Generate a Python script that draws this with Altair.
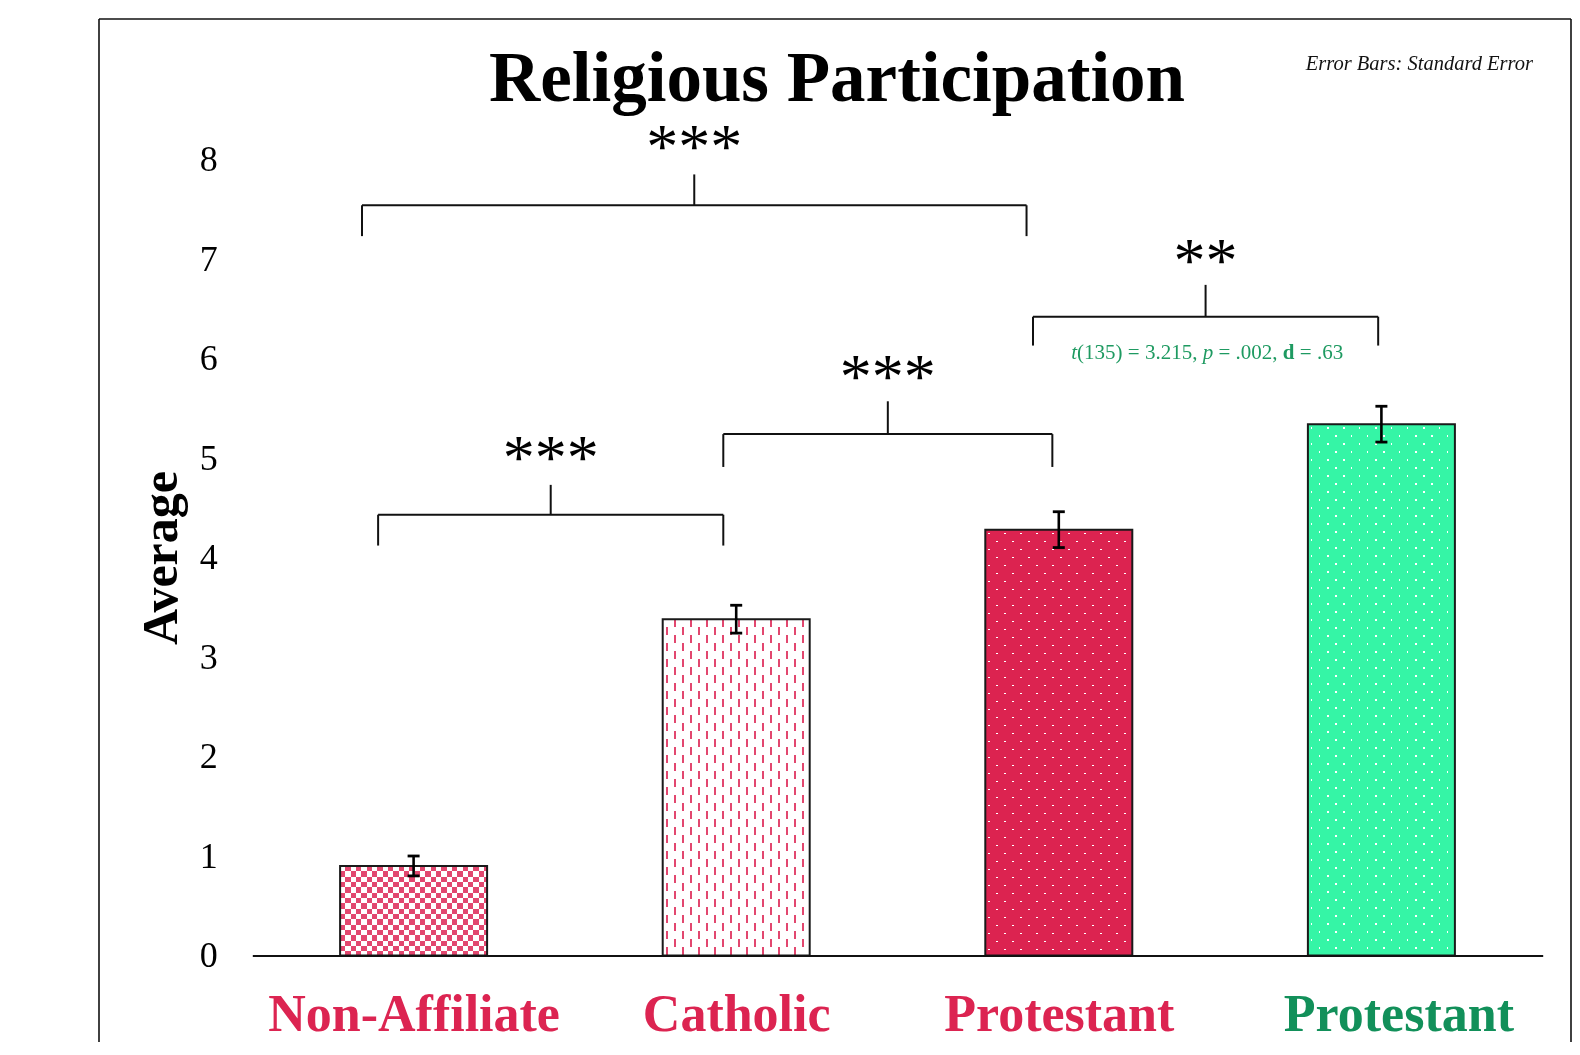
import json
import altair as alt
import pandas as pd

# ---------------- data ----------------
GROUPS = ["nonaff", "catholic", "prot_red", "prot_green"]
LABELS = ["Non-Affiliate", "Catholic", "Protestant", "Protestant"]
MEANS = [0.90, 3.38, 4.28, 5.34]
SE = [0.10, 0.14, 0.18, 0.18]

# significance brackets (x in category units, y in "Average" units)
BR_LEFT = [0.34, 0.39, 1.46, 2.42]
BR_RIGHT = [2.40, 1.46, 2.48, 3.49]
BR_Y = [7.54, 4.43, 5.24, 6.42]
BR_LEG = [7.23, 4.12, 4.91, 6.13]
BR_TOP = [7.85, 4.73, 5.57, 6.74]
STARS = ["***", "***", "***", "**"]
STAR_BASE = [7.91, 4.79, 5.60, 6.77]

STAT_PARTS = ["t", "(135) = 3.215,", "p", "= .002,", "d", "= .63"]
STAT_STYLE = ["italic", "normal", "italic", "normal", "normal", "normal"]
STAT_WEIGHT = ["normal", "normal", "normal", "normal", "bold", "normal"]
STAT_X = 2.96
STAT_Y = 6.0

Y_TICKS = [0, 1, 2, 3, 4, 5, 6, 7, 8]
TITLE = "Religious Participation"
NOTE = "Error Bars: Standard Error"

# ---------------- layout / style ----------------
FONT = "Liberation Serif"
W, H = 1472, 1023
X_RANGE = [153.3, 1443.7]
Y_RANGE = [936.5, 140.5]
PX_X = (X_RANGE[1] - X_RANGE[0]) / 4.0
PX_Y = (Y_RANGE[0] - Y_RANGE[1]) / 8.0
BAR_W = 147.0
CAP_W = 12.0

RED_LABEL = "#dc2451"
GREEN_LABEL = "#12905a"
PINK = "#e2476f"
RED_BAR = "#dc2350"
GREEN_BAR = "#35f5a6"
STAT_GREEN = "#1e9a61"

xs = alt.Scale(domain=[0, 4], range=X_RANGE, nice=False, zero=False)
ys = alt.Scale(domain=[0, 8], range=Y_RANGE, nice=False, zero=False)

label_expr = json.dumps(LABELS) + "[floor(datum.value)]"
AX_X = alt.Axis(
    values=[0.5, 1.5, 2.5, 3.5], labelExpr=label_expr, title=None,
    ticks=False, grid=False, domain=True, domainColor="#111111", domainWidth=2,
    offset=Y_RANGE[0] - H, labelPadding=75, labelBaseline="alphabetic",
    labelFont=FONT, labelFontSize=52, labelFontWeight="bold",
    labelColor={"condition": {"test": "datum.value > 3", "value": GREEN_LABEL}, "value": RED_LABEL},
    labelOffset={"condition": {"test": "datum.value > 3", "value": 17}, "value": 0},
    labelOverlap=False, labelBound=False, labelFlush=False, labelLimit=0, zindex=1)
AX_Y = alt.Axis(
    values=Y_TICKS, format="d", ticks=False, grid=False, domain=False,
    offset=-X_RANGE[0], labelPadding=35, labelFont=FONT, labelFontSize=36,
    labelColor="#000000", title="Average", titleFont=FONT, titleFontSize=50,
    titleFontWeight="bold", titleColor="#000000", titlePadding=13)


def X(f):
    return alt.X(f, type="quantitative", scale=xs, axis=AX_X)


def Y(f):
    return alt.Y(f, type="quantitative", scale=ys, axis=AX_Y)


df = pd.DataFrame({"group": GROUPS, "label": LABELS, "mean": MEANS, "se": SE})
df["pos"] = df.index + 0.5
df["x0"] = df["pos"] - BAR_W / 2 / PX_X
df["x1"] = df["pos"] + BAR_W / 2 / PX_X
df["c0"] = df["pos"] - CAP_W / 2 / PX_X
df["c1"] = df["pos"] + CAP_W / 2 / PX_X
df["lo"] = df["mean"] - df["se"]
df["hi"] = df["mean"] + df["se"]
df["base"] = 0.0


# ---------- pattern fills built with gradients + blend modes ----------
def band_stops(length, period, start, width, on, off):
    stops = [{"offset": 0, "color": off}]
    k = -1
    while k * period + start < length:
        a = (k * period + start) / length
        b = (k * period + start + width) / length
        k += 1
        if b <= 0:
            continue
        a = round(max(a, 0.0), 5)
        b = round(min(b, 1.0), 5)
        stops += [{"offset": a, "color": off}, {"offset": a, "color": on},
                  {"offset": b, "color": on}, {"offset": b, "color": off}]
    stops.append({"offset": 1, "color": off})
    return stops


def grad(stops, vertical):
    return {"gradient": "linear", "stops": stops, "x1": 0, "y1": 0,
            "x2": 0 if vertical else 1, "y2": 1 if vertical else 0}


def pattern_layers(i):
    h = MEANS[i] * PX_Y
    g = GROUPS[i]
    B, Wt = "#000000", "#ffffff"
    if g == "nonaff":
        s = 5.33
        steps = [
            (grad(band_stops(BAR_W, 2 * s, 0, s, B, Wt), False), None),
            (grad(band_stops(h, 2 * s, 0, s, Wt, B), True), "difference"),
            (PINK, "screen"),
        ]
    elif g == "catholic":
        steps = [
            (grad(band_stops(BAR_W, 16, 0, 8, B, Wt), False), None),
            (grad(band_stops(h, 16, 0, 8, Wt, B), True), "difference"),
            (grad(band_stops(BAR_W, 8, 3, 2, B, Wt), False), "screen"),
            (PINK, "screen"),
        ]
    else:
        col = RED_BAR if g == "prot_red" else GREEN_BAR
        steps = [
            (grad(band_stops(BAR_W, 16, 0, 8, B, Wt), False), None),
            (grad(band_stops(h, 16, 0, 8, Wt, B), True), "difference"),
            (grad(band_stops(BAR_W, 8, 3, 1.6, Wt, B), False), "multiply"),
            (grad(band_stops(h, 8, 3, 1.6, Wt, B), True), "multiply"),
            (col, "screen"),
        ]
    out = []
    for fill, blend in steps:
        kw = dict(fill=fill, strokeWidth=0)
        if blend:
            kw["blend"] = blend
        out.append(
            alt.Chart(df).transform_filter(alt.datum.group == g)
            .mark_bar(**kw)
            .encode(x=X("x0"), x2="x1", y=Y("mean"), y2="base")
        )
    return out


layers = []
for i in range(len(GROUPS)):
    layers += pattern_layers(i)

# bar outlines
layers.append(alt.Chart(df).mark_bar(filled=False, stroke="#1a1a1a", strokeWidth=2)
              .encode(x=X("x0"), x2="x1", y=Y("mean"), y2="base"))

# error bars
layers.append(alt.Chart(df).mark_rule(color="#000000", strokeWidth=2.6)
              .encode(x=X("pos"), y=Y("lo"), y2="hi"))
layers.append(alt.Chart(df).mark_rule(color="#000000", strokeWidth=2.8)
              .encode(x=X("c0"), x2="c1", y=Y("hi")))
layers.append(alt.Chart(df).mark_rule(color="#000000", strokeWidth=2.8)
              .encode(x=X("c0"), x2="c1", y=Y("lo")))

# brackets
segs = []
for L, R, yb, lg, tp in zip(BR_LEFT, BR_RIGHT, BR_Y, BR_LEG, BR_TOP):
    m = (L + R) / 2
    segs += [
        {"xa": L, "xb": R, "ya": yb, "yb": yb},
        {"xa": L, "xb": L, "ya": lg, "yb": yb},
        {"xa": R, "xb": R, "ya": lg, "yb": yb},
        {"xa": m, "xb": m, "ya": yb, "yb": tp},
    ]
seg_df = pd.DataFrame(segs)
layers.append(alt.Chart(seg_df).mark_rule(color="#111111", strokeWidth=2)
              .encode(x=X("xa"), x2="xb", y=Y("ya"), y2="yb"))

star_df = pd.DataFrame({"x": [(l + r) / 2 for l, r in zip(BR_LEFT, BR_RIGHT)],
                        "y": STAR_BASE, "t": STARS})
layers.append(alt.Chart(star_df).mark_text(font=FONT, fontSize=64, color="#000000",
                                           align="center", baseline="alphabetic")
              .encode(x=X("x"), y=Y("y"), text="t"))

# t-test annotation, one piece per font style
STAT_DX = [-135.9, -130.1, -4.5, 11.3, 75.6, 92.6]
stat_df = pd.DataFrame({"x": [STAT_X], "y": [STAT_Y]})
for txt, sty, wt, dx in zip(STAT_PARTS, STAT_STYLE, STAT_WEIGHT, STAT_DX):
    layers.append(alt.Chart(stat_df).mark_text(
        text=txt, font=FONT, fontSize=21, fontStyle=sty, fontWeight=wt,
        color=STAT_GREEN, align="left", baseline="alphabetic", dx=dx)
        .encode(x=X("x"), y=Y("y")))

# title and note
one = pd.DataFrame({"k": [0]})
layers.append(alt.Chart(one).mark_text(
    text=TITLE, font=FONT, fontSize=71, fontWeight="bold", color="#000000",
    align="center", baseline="alphabetic").encode(x=alt.value(W / 2 + 2), y=alt.value(82)))
layers.append(alt.Chart(one).mark_text(
    text=NOTE, font=FONT, fontSize=20.5, fontStyle="italic", color="#111111",
    align="right", baseline="alphabetic").encode(x=alt.value(1434), y=alt.value(51)))

# frame
layers.append(alt.Chart(one).mark_rule(color="#111111", strokeWidth=1.6)
              .encode(x=alt.value(0), x2=alt.value(W), y=alt.value(0)))
layers.append(alt.Chart(one).mark_rule(color="#111111", strokeWidth=1.6)
              .encode(x=alt.value(0), y=alt.value(0), y2=alt.value(H + 40)))
layers.append(alt.Chart(one).mark_rule(color="#111111", strokeWidth=1.6)
              .encode(x=alt.value(W), y=alt.value(0), y2=alt.value(H + 40)))

chart = alt.layer(*layers).properties(
    width=W, height=H,
    autosize=alt.AutoSizeParams(type="none"),
    padding={"left": 91, "top": 11, "right": 1, "bottom": 0},
    background="white",
).configure_view(strokeWidth=0)

chart.save("out.html", embed_options={"renderer": "svg", "actions": False})
